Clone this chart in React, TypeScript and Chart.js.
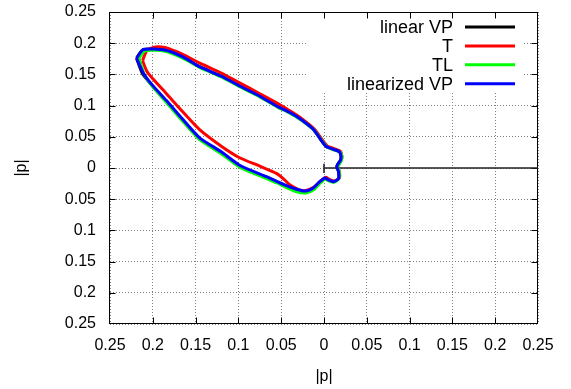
import { useEffect, useRef } from 'react';
import { Chart, registerables } from 'chart.js';

Chart.register(...registerables);

const xTickLabels = ['0.25', '0.2', '0.15', '0.1', '0.05', '0', '0.05', '0.1', '0.15', '0.2', '0.25'];
const yTickLabels = ['0.25', '0.2', '0.15', '0.1', '0.05', '0', '0.05', '0.1', '0.15', '0.2', '0.25'];

const seriesNames = ['linear VP', 'T', 'TL', 'linearized VP'];
const seriesColors = ['#000000', '#ff0000', '#00ff00', '#0000ff'];

const linearVP: [number, number][] = [
  [-0.219, 0.176], [-0.211, 0.190], [-0.186, 0.189], [-0.165, 0.178], [-0.145, 0.162],
  [-0.120, 0.147], [-0.098, 0.131], [-0.075, 0.115], [-0.055, 0.099], [-0.040, 0.089],
  [-0.028, 0.079], [-0.0125, 0.062], [-0.003, 0.044], [0.003, 0.034], [0.011, 0.030],
  [0.018, 0.026], [0.020, 0.018], [0.019, 0.012], [0.015, 0.003], [0.017, -0.006],
  [0.017, -0.017], [0.011, -0.022], [0.005, -0.019], [0.001, -0.016], [-0.005, -0.023],
  [-0.0125, -0.033], [-0.022, -0.038], [-0.032, -0.035], [-0.046, -0.028], [-0.067, -0.015],
  [-0.098, 0.002], [-0.120, 0.024], [-0.145, 0.046], [-0.165, 0.076], [-0.184, 0.106],
  [-0.200, 0.131], [-0.212, 0.151], [-0.219, 0.176],
];

const linearVPRay: [number, number][] = [
  [0, 0.007], [0, -0.008], [0, 0], [0.25, 0],
];

const seriesT: [number, number][] = [
  [-0.212, 0.172], [-0.207, 0.188], [-0.197, 0.194], [-0.186, 0.193], [-0.165, 0.182],
  [-0.145, 0.168], [-0.120, 0.152], [-0.098, 0.136], [-0.075, 0.119], [-0.051, 0.101],
  [-0.038, 0.090], [-0.026, 0.079], [-0.011, 0.062], [-0.002, 0.045], [0.004, 0.035],
  [0.012, 0.031], [0.019, 0.027], [0.021, 0.019], [0.020, 0.012], [0.016, 0.003],
  [0.018, -0.006], [0.018, -0.016], [0.012, -0.021], [0.006, -0.018], [0.002, -0.015],
  [-0.004, -0.021], [-0.012, -0.031], [-0.021, -0.036], [-0.029, -0.035], [-0.040, -0.027],
  [-0.046, -0.019], [-0.055, -0.009], [-0.075, 0.003], [-0.098, 0.016], [-0.120, 0.035],
  [-0.145, 0.061], [-0.165, 0.090], [-0.184, 0.119], [-0.200, 0.143], [-0.207, 0.155],
  [-0.212, 0.172],
];

const seriesTL: [number, number][] = [
  [-0.216, 0.176], [-0.209, 0.188], [-0.186, 0.187], [-0.165, 0.176], [-0.145, 0.161],
  [-0.120, 0.146], [-0.098, 0.130], [-0.075, 0.114], [-0.055, 0.098], [-0.040, 0.088],
  [-0.028, 0.078], [-0.012, 0.061], [-0.002, 0.043], [0.004, 0.033], [0.012, 0.029],
  [0.019, 0.025], [0.021, 0.017], [0.020, 0.011], [0.016, 0.002], [0.018, -0.007],
  [0.017, -0.018], [0.011, -0.023], [0.005, -0.020], [0.001, -0.018], [-0.005, -0.025],
  [-0.012, -0.035], [-0.021, -0.040], [-0.032, -0.038], [-0.046, -0.030], [-0.055, -0.024],
  [-0.067, -0.017], [-0.098, 0.001], [-0.120, 0.023], [-0.145, 0.045], [-0.165, 0.075],
  [-0.184, 0.105], [-0.200, 0.130], [-0.210, 0.150], [-0.216, 0.176],
];

const linearizedVP: [number, number][] = [
  [-0.219, 0.176], [-0.211, 0.190], [-0.186, 0.189], [-0.165, 0.178], [-0.145, 0.162],
  [-0.120, 0.147], [-0.098, 0.131], [-0.075, 0.115], [-0.055, 0.099], [-0.040, 0.089],
  [-0.028, 0.079], [-0.0125, 0.062], [-0.003, 0.044], [0.003, 0.034], [0.011, 0.030],
  [0.018, 0.026], [0.020, 0.018], [0.019, 0.012], [0.015, 0.003], [0.017, -0.006],
  [0.017, -0.017], [0.011, -0.022], [0.005, -0.019], [0.001, -0.016], [-0.005, -0.022],
  [-0.0125, -0.032], [-0.022, -0.037], [-0.032, -0.034], [-0.046, -0.027], [-0.067, -0.014],
  [-0.098, 0.004], [-0.120, 0.026], [-0.145, 0.048], [-0.165, 0.078], [-0.184, 0.108],
  [-0.200, 0.132], [-0.211, 0.152], [-0.219, 0.176],
];

const FONT = "'Liberation Sans', Arial, Helvetica, sans-serif";

const toXY = (arr: [number, number][]) => arr.map(([x, y]) => ({ x, y }));

const frameAndKey = {
  id: 'frameAndKey',
  beforeDatasetsDraw(chart: any) {
    const { ctx, chartArea: a, scales } = chart;
    ctx.save();
    // key box clears the grid
    ctx.fillStyle = '#ffffff';
    ctx.fillRect(a.right - 231, a.top + 1, 216, 80);
    // border
    ctx.strokeStyle = '#000000';
    ctx.lineWidth = 1;
    const L = Math.round(a.left) - 0.5;
    const R = Math.round(a.right) - 0.5;
    const T = Math.round(a.top) + 0.5;
    const B = Math.round(a.bottom) - 0.5;
    ctx.strokeRect(L, T, R - L, B - T);
    // inner ticks
    const tl = 6;
    ctx.beginPath();
    scales.x.ticks.forEach((t: any) => {
      const px = Math.round(scales.x.getPixelForValue(t.value)) + 0.5;
      if (px <= L + 1 || px >= R - 1) return;
      ctx.moveTo(px, B); ctx.lineTo(px, B - tl);
      ctx.moveTo(px, T); ctx.lineTo(px, T + tl);
    });
    scales.y.ticks.forEach((t: any) => {
      const py = Math.round(scales.y.getPixelForValue(t.value)) + 0.5;
      if (py <= T + 1 || py >= B - 1) return;
      ctx.moveTo(L, py); ctx.lineTo(L + tl, py);
      ctx.moveTo(R, py); ctx.lineTo(R - tl, py);
    });
    ctx.stroke();
    // key entries
    ctx.font = `18px ${FONT}`;
    ctx.textAlign = 'right';
    ctx.textBaseline = 'middle';
    seriesNames.forEach((name, i) => {
      const y = a.top + 15 + i * 18.9;
      ctx.fillStyle = '#000000';
      ctx.fillText(name, a.right - 85, y + 1);
      ctx.strokeStyle = seriesColors[i];
      ctx.lineWidth = 3;
      ctx.beginPath();
      ctx.moveTo(a.right - 73, y);
      ctx.lineTo(a.right - 23, y);
      ctx.stroke();
    });
    ctx.restore();
  },
};

export default function App() {
  const ref = useRef<HTMLCanvasElement | null>(null);

  useEffect(() => {
    document.body.style.margin = '0';
    const canvas = ref.current;
    if (!canvas) return;
    const common = { pointRadius: 0, fill: false, tension: 0.2, borderWidth: 3 };
    const chart = new Chart(canvas, {
      type: 'line',
      data: {
        datasets: [
          { ...common, label: seriesNames[0], data: toXY(linearVP), borderColor: seriesColors[0], order: 4 },
          { ...common, label: seriesNames[0] + ' ray', data: toXY(linearVPRay), borderColor: '#222222', borderWidth: 1.6, tension: 0, order: 5 },
          { ...common, label: seriesNames[1], data: toXY(seriesT), borderColor: seriesColors[1], order: 3 },
          { ...common, label: seriesNames[2], data: toXY(seriesTL), borderColor: seriesColors[2], order: 2 },
          { ...common, label: seriesNames[3], data: toXY(linearizedVP), borderColor: seriesColors[3], order: 1 },
        ],
      },
      options: {
        responsive: false,
        animation: false,
        events: [],
        layout: { padding: { top: 12, right: 33, left: 0, bottom: 0 } },
        plugins: { legend: { display: false }, tooltip: { enabled: false } },
        scales: {
          x: {
            type: 'linear',
            position: 'bottom',
            min: -0.25,
            max: 0.25,
            afterFit: (s: any) => { s.height = 65; s.paddingLeft = 0; s.paddingRight = 0; },
            ticks: {
              stepSize: 0.05,
              padding: 12,
              color: '#000000',
              font: { family: FONT, size: 16 },
              maxRotation: 0,
              autoSkip: false,
              callback: (v: any) => xTickLabels[Math.round((Number(v) + 0.25) / 0.05)] ?? '',
            },
            grid: { color: '#808080', lineWidth: 1, drawTicks: false },
            border: { display: false, dash: [1, 2] },
            title: { display: true, text: '|p|', color: '#000000', font: { family: FONT, size: 16 }, padding: { top: 0, bottom: 3 } },
          },
          y: {
            type: 'linear',
            position: 'left',
            min: -0.25,
            max: 0.25,
            afterFit: (s: any) => { s.width = 110; s.paddingTop = 0; s.paddingBottom = 0; },
            ticks: {
              stepSize: 0.05,
              padding: 14,
              color: '#000000',
              font: { family: FONT, size: 16 },
              autoSkip: false,
              callback: (v: any) => yTickLabels[Math.round((Number(v) + 0.25) / 0.05)] ?? '',
            },
            grid: { color: '#808080', lineWidth: 1, drawTicks: false },
            border: { display: false, dash: [1, 2] },
            title: { display: true, text: '|p|', color: '#000000', font: { family: FONT, size: 16 }, padding: { top: 12, bottom: 0 } },
          },
        },
      },
      plugins: [frameAndKey],
    });
    return () => chart.destroy();
  }, []);

  return <canvas ref={ref} width={571} height={389} style={{ display: 'block' }} />;
}
